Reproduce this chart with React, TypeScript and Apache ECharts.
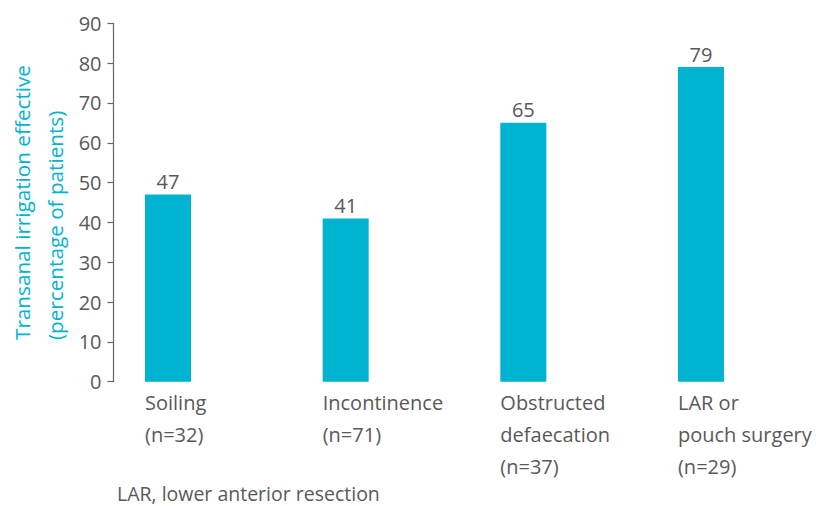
import React, { useEffect, useRef } from "react";
import * as echarts from "echarts";

const categories = [
  "Soiling\n(n=32)",
  "Incontinence\n(n=71)",
  "Obstructed\ndefaecation\n(n=37)",
  "LAR or\npouch surgery\n(n=29)",
];
const values = [47, 41, 65, 79];
const yTicks = { min: 0, max: 90, interval: 10 };
const yTitleLines = ["Transanal irrigation effective", "(percentage of patients)"];
const footnote = "LAR, lower anterior resection";

const BAR = "#00b3d0";
const TEXT = "#595959";
const FONT = "'Open Sans', 'Noto Sans', sans-serif";

export default function App() {
  const ref = useRef<HTMLDivElement>(null);

  useEffect(() => {
    if (!ref.current) return;
    const chart = echarts.init(ref.current, undefined, { renderer: "svg" });
    chart.setOption({
      animation: false,
      grid: { left: 79.2, right: 26.2, top: 23.3, bottom: 124.3 },
      xAxis: {
        type: "category",
        data: categories,
        axisLine: { show: false },
        axisTick: { show: false },
        axisLabel: {
          color: TEXT,
          fontFamily: FONT,
          fontSize: 20,
          lineHeight: 32,
          align: "left",
          verticalAlign: "top",
          margin: 5,
          padding: [0, 0, 0, -23],
        },
      },
      yAxis: {
        type: "value",
        min: yTicks.min,
        max: yTicks.max,
        interval: yTicks.interval,
        offset: -34.3,
        splitLine: { show: false },
        axisLine: { show: true, lineStyle: { color: "#666666", width: 1.2 } },
        axisTick: { show: true, length: 6, lineStyle: { color: "#666666", width: 1.2 } },
        axisLabel: { color: TEXT, fontFamily: FONT, fontSize: 20, margin: 12 },
      },
      series: [
        {
          type: "bar",
          data: values,
          barWidth: 46,
          itemStyle: { color: BAR },
          label: {
            show: true,
            position: "top",
            distance: 3,
            color: TEXT,
            fontFamily: FONT,
            fontSize: 20,
          },
        },
      ],
      graphic: [
        {
          type: "text",
          x: 22,
          y: 340,
          rotation: Math.PI / 2,
          style: {
            text: yTitleLines[0],
            fill: BAR,
            font: `20.7px ${FONT}`,
            textAlign: "left",
            textVerticalAlign: "middle",
          },
        },
        {
          type: "text",
          x: 55,
          y: 340,
          rotation: Math.PI / 2,
          style: {
            text: yTitleLines[1],
            fill: BAR,
            font: `20.7px ${FONT}`,
            textAlign: "left",
            textVerticalAlign: "middle",
          },
        },
        {
          type: "text",
          x: 117,
          y: 493,
          style: {
            text: footnote,
            fill: TEXT,
            font: `19.5px ${FONT}`,
            textAlign: "left",
            textVerticalAlign: "middle",
          },
        },
      ],
    });
    return () => chart.dispose();
  }, []);

  return (
    <div
      ref={ref}
      style={{ position: "fixed", left: 0, top: 0, width: 816, height: 506, background: "#ffffff" }}
    />
  );
}
